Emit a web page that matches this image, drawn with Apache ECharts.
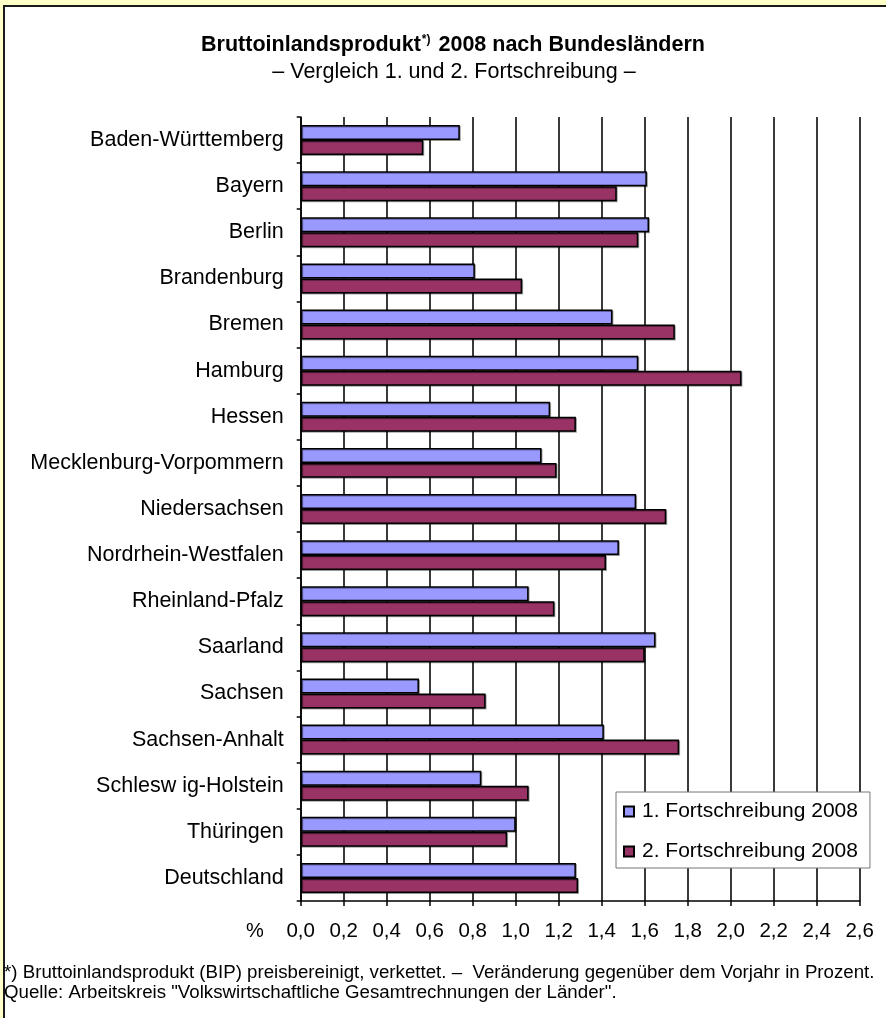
<!DOCTYPE html>
<html>
<head>
<meta charset="utf-8">
<script src="https://cdn.jsdelivr.net/npm/echarts@6/dist/echarts.min.js"></script>
<style>html,body{margin:0;padding:0;background:#ffffc8;}#c{width:886px;height:1018px;}</style>
</head>
<body>
<div id="c"></div>
<script>
const categories = ["Baden-Württemberg","Bayern","Berlin","Brandenburg","Bremen","Hamburg","Hessen","Mecklenburg-Vorpommern","Niedersachsen","Nordrhein-Westfalen","Rheinland-Pfalz","Saarland","Sachsen","Sachsen-Anhalt","Schlesw ig-Holstein","Thüringen","Deutschland"];
const fortschreibung1 = [0.74,1.61,1.62,0.81,1.45,1.57,1.16,1.12,1.56,1.48,1.06,1.65,0.55,1.41,0.84,1.00,1.28];
const fortschreibung2 = [0.57,1.47,1.57,1.03,1.74,2.05,1.28,1.19,1.70,1.42,1.18,1.60,0.86,1.76,1.06,0.96,1.29];
const seriesNames = ["1. Fortschreibung 2008","2. Fortschreibung 2008"];
const xTicks = {min:0,max:2.6,interval:0.2};

const FONT = "'Liberation Sans', Arial, sans-serif";
const chart = echarts.init(document.getElementById('c'), null, {renderer:'canvas'});
const barStyle = (color) => ({color:color, borderColor:'#000', borderWidth:1.5,
  shadowColor:'rgba(0,0,0,0.35)', shadowOffsetX:1, shadowOffsetY:1, shadowBlur:0});
chart.setOption({
  backgroundColor:'#ffffc8',
  animation:false,
  textStyle:{fontFamily:FONT},
  graphic:[
    {type:'rect', z:-10, shape:{x:4,y:6,width:900,height:1100}, style:{fill:'#fff', stroke:'#1a1a1a', lineWidth:2}},
    {type:'text', x:453, y:34, style:{align:'center', rich:{b:{fontFamily:FONT,fontWeight:'bold',fontSize:21.5,fill:'#000'},s:{fontFamily:FONT,fontWeight:'bold',fontSize:12,fill:'#000',verticalAlign:'top',padding:[0,2,9,1]}},
      text:'{b|Bruttoinlandsprodukt}{s|*)}{b| 2008 nach Bundesländern}'}},
    {type:'text', x:454, y:61, style:{align:'center', text:'– Vergleich 1. und 2. Fortschreibung –', fontFamily:FONT, fontSize:21.5, fill:'#000'}},
    {type:'text', left:246, top:921, style:{text:'%', fontFamily:FONT, fontSize:20, fill:'#000'}},
    {type:'text', left:4, top:963, style:{text:'*) Bruttoinlandsprodukt (BIP) preisbereinigt, verkettet. –  Veränderung gegenüber dem Vorjahr in Prozent.', fontFamily:FONT, fontSize:18.7, fill:'#000'}},
    {type:'text', left:4, top:983, style:{text:'Quelle: Arbeitskreis "Volkswirtschaftliche Gesamtrechnungen der Länder".', fontFamily:FONT, fontSize:18.7, fill:'#000'}}
  ],
  grid:{left:300.7, right:26.3, top:117, bottom:117, containLabel:false},
  legend:{
    orient:'vertical', left:616, top:792,
    backgroundColor:'#fff', borderColor:'#777', borderWidth:1,
    padding:[9,12,6,7], itemGap:19, itemWidth:10, itemHeight:10,
    icon:'rect',
    textStyle:{fontFamily:FONT, fontSize:21, color:'#000', padding:[0,0,0,3]},
    data:seriesNames
  },
  xAxis:{
    type:'value', min:xTicks.min, max:xTicks.max, interval:xTicks.interval,
    axisLine:{show:true, lineStyle:{color:'#000', width:1.5}},
    axisTick:{show:true, length:5, lineStyle:{color:'#000', width:1.5}},
    splitLine:{show:true, lineStyle:{color:'#3a3a3a', width:2}},
    axisLabel:{fontFamily:FONT, fontSize:20.5, color:'#000', margin:20,
      formatter:(v)=>v.toFixed(1).replace('.',',')}
  },
  yAxis:{
    type:'category', data:categories, inverse:true,
    axisLine:{show:true, lineStyle:{color:'#000', width:1.5}},
    axisTick:{show:true, length:4, lineStyle:{color:'#000', width:1.5}},
    axisLabel:{fontFamily:FONT, fontSize:21.5, color:'#000', margin:17}
  },
  series:[
    {name:seriesNames[0], type:'bar', data:fortschreibung1, barGap:'0%', barCategoryGap:'35%', itemStyle:barStyle('#9999ff')},
    {name:seriesNames[1], type:'bar', data:fortschreibung2, barGap:'0%', barCategoryGap:'35%', itemStyle:barStyle('#993366')}
  ]
});
</script>
</body>
</html>
